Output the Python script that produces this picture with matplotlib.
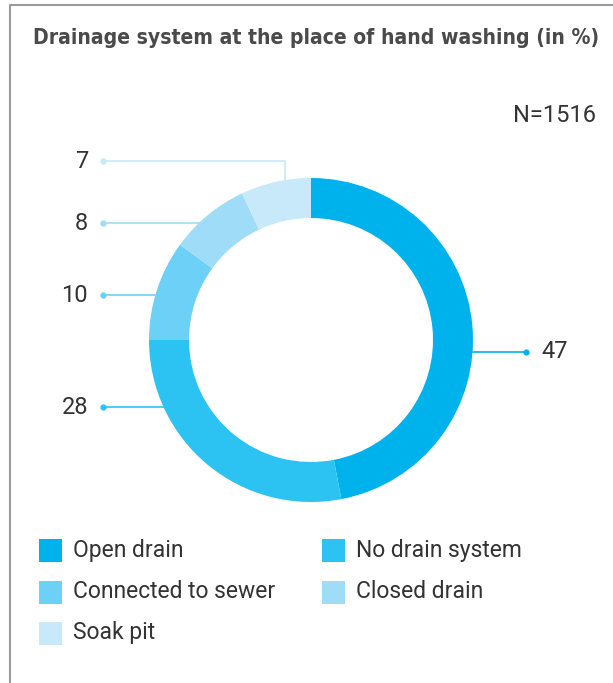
import matplotlib.pyplot as plt

W, H = 613, 683

categories = ['Open drain', 'No drain system', 'Connected to sewer', 'Closed drain', 'Soak pit']
values = [47, 28, 10, 8, 7]
colors = ['#00b2ec', '#2cc3f2', '#6dd0f6', '#9fdcf7', '#c7e9f9']
n_label = 'N=1516'
title = 'Drainage system at the place of hand washing (in %)'

plt.rcParams['font.family'] = ['Roboto', 'DejaVu Sans']

fig = plt.figure(figsize=(W / 100, H / 100), dpi=100)
ax = fig.add_axes([0, 0, 1, 1])

def Y(y):
    # pixel row (from top) -> data y
    return H - y

cx, cy = 311, 340
r_out, ring = 162, 40

ax.pie(values, colors=colors, startangle=90, counterclock=False,
       center=(cx, Y(cy)), radius=r_out,
       wedgeprops=dict(width=ring, linewidth=0))

text_c = '#333333'
lab_fs = 17
# Open drain on the right
yl = 352
ax.plot([cx + (r_out**2 - (yl - cy)**2) ** 0.5, 526], [Y(yl), Y(yl)], color=colors[0], lw=1.2)
ax.plot(526, Y(yl), 'o', color=colors[0], ms=3.5)
ax.text(541, Y(yl), str(values[0]), fontsize=lab_fs, color=text_c, va='center', ha='left')

left = [(1, 407), (2, 295), (3, 223)]
for i, yl in left:
    xe = cx - (r_out**2 - (yl - cy)**2) ** 0.5
    ax.plot([103, xe], [Y(yl), Y(yl)], color=colors[i], lw=1.2)
    ax.plot(103, Y(yl), 'o', color=colors[i], ms=3.5)
    ax.text(88, Y(yl), str(values[i]), fontsize=lab_fs, color=text_c, va='center', ha='right')

# Soak pit: elbow leader
yl, xv = 161, 285
ye = cy - (r_out**2 - (xv - cx)**2) ** 0.5
ax.plot([103, xv, xv], [Y(yl), Y(yl), Y(ye)], color=colors[4], lw=1.2)
ax.plot(103, Y(yl), 'o', color=colors[4], ms=3.5)
ax.text(88, Y(yl), str(values[4]), fontsize=lab_fs, color=text_c, va='center', ha='right')

# legend
sq_w, sq_h = 23, 23
rows = [550, 592, 633]
cols = [39, 322]
for k, (name, col) in enumerate(zip(categories, colors)):
    x0 = cols[k % 2]
    y0 = rows[k // 2]
    ax.add_patch(plt.Rectangle((x0, Y(y0) - sq_h / 2), sq_w, sq_h, color=col, lw=0))
    ax.text(x0 + 34, Y(y0), name, fontsize=16.5, color=text_c, va='center', ha='left')

# title, N and frame
t = ax.text(33, Y(38), title, fontsize=19, fontweight='bold', color='#4a4a4a',
            va='center', ha='left', family='DejaVu Sans', fontstretch='condensed')
ax.text(596, Y(115), n_label, fontsize=17, color=text_c, va='center', ha='right')
ax.plot([10, 10, W], [0, Y(5), Y(5)], color='#9a9a9a', lw=1.5)

ax.set_xlim(0, W)
ax.set_ylim(0, H)
ax.set_aspect('auto')
ax.set_axis_off()

# shrink the title until it fits the reference width
r = fig.canvas.get_renderer()
w = t.get_window_extent(r).width
if w > 565:
    t.set_fontsize(19 * 565 / w)

fig.savefig('out.png', dpi=100)
